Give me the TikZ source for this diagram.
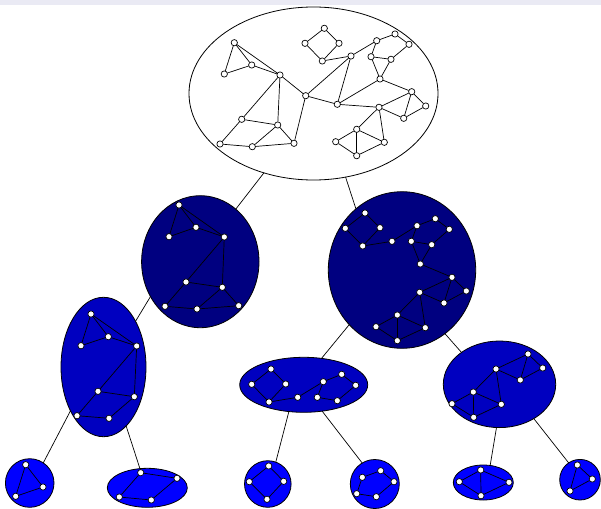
\documentclass[tikz,border=0pt]{standalone}
\usetikzlibrary{shapes.geometric}
\definecolor{band}{HTML}{EAEAF4}
\definecolor{lvlone}{HTML}{000080}
\definecolor{lvltwo}{HTML}{0000C0}
\definecolor{lvlthree}{HTML}{0000FF}

\begin{document}
\begin{tikzpicture}[x=1pt,y=-1pt,line cap=round,line join=round,
  cluster/.style={ellipse,draw=black,line width=0.8pt,inner sep=0pt,outer sep=0pt},
  leaf/.style={circle,draw=black,line width=0.8pt,inner sep=0pt,outer sep=0pt,fill=lvlthree},
  vtx/.style={circle,draw=black,fill=white,line width=0.7pt,inner sep=0pt,minimum size=6.3pt},
  gedge/.style={line width=0.7pt,black},
  tedge/.style={line width=0.7pt,black}]
  \useasboundingbox (0,0) rectangle (601,508);
  \fill[band] (0,0) rectangle (601,5);

  % ---- clusters of the decomposition tree ----
  \node[cluster,fill=white,minimum width=249pt,minimum height=173pt] (root) at (313.5,93.5) {};
  \node[cluster,fill=lvlone,minimum width=117.4pt,minimum height=132pt] (left) at (200.3,261.7) {};
  \node[cluster,fill=lvlone,minimum width=147.4pt,minimum height=156.6pt] (right) at (402,270) {};
  \node[cluster,fill=lvltwo,minimum width=85pt,minimum height=139.4pt] (leftleft) at (103.5,367) {};
  \node[cluster,fill=lvltwo,minimum width=128pt,minimum height=55pt] (mid) at (303.7,384.8) {};
  \node[cluster,fill=lvltwo,minimum width=112.4pt,minimum height=86.6pt] (rightright) at (499.5,384.3) {};
  \node[leaf,minimum size=48.6pt] (leafa) at (29.7,483) {};
  \node[cluster,fill=lvlthree,minimum width=80pt,minimum height=39pt] (leafb) at (147.3,487.8) {};
  \node[leaf,minimum size=46.6pt] (leafc) at (267.8,484) {};
  \node[leaf,minimum size=49pt] (leafd) at (374.8,484) {};
  \node[cluster,fill=lvlthree,minimum width=60pt,minimum height=35pt] (leafe) at (483.3,482.5) {};
  \node[leaf,minimum size=40.6pt] (leaff) at (580,479.7) {};

  % ---- tree connectors ----
  \draw[tedge] (root.-122) -- (left.56.5);
  \draw[tedge] (root.-69.6) -- (right.127.2);
  \draw[tedge] (left.215.8) -- (leftleft.55.3);
  \draw[tedge] (leftleft.233.7) -- (leafa.56.7);
  \draw[tedge] (leftleft.-69.6) -- (leafb.111.3);
  \draw[tedge] (right.226.6) -- (mid.56.9);
  \draw[tedge] (right.-56.5) -- (rightright.140);
  \draw[tedge] (mid.241.3) -- (leafc.70.5);
  \draw[tedge] (mid.-55.3) -- (leafd.121.6);
  \draw[tedge] (rightright.-94.6) -- (leafe.68.6);
  \draw[tedge] (rightright.-45.2) -- (leaff.124.5);

  % ---- whole graph (root) ----
  \foreach \n/\x/\y in {a1/234.3/42.7,a2/251.7/65,a3/224.3/74,a4/280/75,a5/305.7/95.7,
      a6/241.7/119.3,a7/277.7/125,a8/220/144,a9/252.3/146.7,a10/294/143.3,
      b1/324.3/28.3,b2/305/43.3,b3/339/43.3,b4/322.3/61,b5/351/56,
      c1/376.7/40.7,c2/395/34,c3/409/44.3,c4/371/56.7,c5/391/59.3,c6/380/79,
      d1/337.3/104.3,d2/411.7/91.7,d3/425.7/106,d4/403.7/118.3,d5/379/107.3,
      e1/356.7/129.3,e2/335.7/141.7,e3/384.3/142.3,e4/356.7/155.7}
    \node[vtx] (r\n) at (\x,\y) {};
  \foreach \a/\b in {a1/a2,a1/a3,a2/a3,a1/a4,a2/a4,a4/a5,a4/a6,a4/a7,a6/a7,a6/a8,a8/a9,
      a7/a9,a7/a10,a9/a10,a5/a10,a5/b5,a5/d1,b5/d1,b1/b2,b1/b3,b2/b4,b3/b4,b4/b5,b5/c1,
      c1/c2,c2/c3,c1/c4,c4/c5,c3/c5,c4/c6,c5/c6,c6/d1,c6/d2,d1/d5,d2/d5,d2/d3,d2/d4,
      d3/d4,d4/d5,d5/e1,d5/e3,e1/e2,e1/e3,e1/e4,e2/e4,e3/e4}
    \draw[gedge] (r\a) -- (r\b);

  % ---- left part ----
  \foreach \n/\x/\y in {a1/179/205,a2/196/227.3,a3/169/236.7,a4/224.3/237,a6/186/282,
      a7/222.3/287.3,a8/165/306.3,a9/197/309,a10/238.7/305.7}
    \node[vtx] (l\n) at (\x,\y) {};
  \foreach \a/\b in {a1/a2,a1/a3,a2/a3,a1/a4,a2/a4,a4/a6,a4/a7,a6/a7,a6/a8,a8/a9,a7/a9,
      a7/a10,a9/a10}
    \draw[gedge] (l\a) -- (l\b);

  % ---- right part ----
  \foreach \n/\x/\y in {b1/365/213,b2/345.3/228.3,b3/380/227.7,b4/362.7/246,b5/392/241.3,
      c1/417/225.7,c2/435.3/218.7,c3/449.3/229.3,c4/411.3/241.3,c5/431.7/244.7,c6/420.3/264,
      d2/452/277.3,d3/466.3/291,d4/444/303,d5/419.7/292.3,
      e1/397.3/315,e2/376/326.7,e3/425.3/327.7,e4/397.3/340.7}
    \node[vtx] (g\n) at (\x,\y) {};
  \foreach \a/\b in {b1/b2,b1/b3,b2/b4,b3/b4,b4/b5,b5/c1,c1/c2,c2/c3,c1/c4,c4/c5,c3/c5,
      c4/c6,c5/c6,c6/d2,d2/d3,d2/d4,d3/d4,d2/d5,d4/d5,d5/e1,d5/e3,e1/e2,e1/e3,e1/e4,
      e2/e4,e3/e4}
    \draw[gedge] (g\a) -- (g\b);

  % ---- second level ----
  \foreach \n/\x/\y in {a1/91/314,a2/108.3/336.7,a3/81/345.7,a4/136.7/346,a6/98/391.3,
      a7/134.3/396.7,a8/77/415.7,a9/109/418.3}
    \node[vtx] (ll\n) at (\x,\y) {};
  \foreach \a/\b in {a1/a2,a1/a3,a2/a3,a1/a4,a2/a4,a4/a6,a4/a7,a6/a7,a6/a8,a8/a9,a7/a9}
    \draw[gedge] (ll\a) -- (ll\b);

  \foreach \n/\x/\y in {b1/271/369,b2/251.7/384.3,b3/285.7/384,b4/269/402,b5/297.7/397.3,
      c1/323.3/381.7,c2/341.7/374.3,c3/355.7/385.3,c4/317.3/397.3,c5/337.3/400.7}
    \node[vtx] (m\n) at (\x,\y) {};
  \foreach \a/\b in {b1/b2,b1/b3,b2/b4,b3/b4,b4/b5,b5/c1,c1/c2,c2/c3,c1/c4,c4/c5,c3/c5}
    \draw[gedge] (m\a) -- (m\b);

  \foreach \n/\x/\y in {d2/528/354,d3/542.7/368,d4/520.3/380,d5/496/369,
      e1/473.3/392,e2/452/403.7,e3/501.3/404.3,e4/473.7/417.3}
    \node[vtx] (rr\n) at (\x,\y) {};
  \foreach \a/\b in {d2/d3,d2/d4,d3/d4,d2/d5,d4/d5,d5/e1,d5/e3,e1/e2,e1/e3,e1/e4,e2/e4,e3/e4}
    \draw[gedge] (rr\a) -- (rr\b);

  % ---- leaves ----
  \foreach \n/\x/\y in {a1/25.7/464.7,a2/43/487,a3/15.7/496.3}
    \node[vtx] (ka\n) at (\x,\y) {};
  \foreach \a/\b in {a1/a2,a2/a3,a3/a1}
    \draw[gedge] (ka\a) -- (ka\b);

  \foreach \n/\x/\y in {a6/140.7/472.7,a7/177/478.3,a8/119.3/497,a9/151.3/500}
    \node[vtx] (kb\n) at (\x,\y) {};
  \foreach \a/\b in {a6/a7,a6/a8,a8/a9,a9/a7}
    \draw[gedge] (kb\a) -- (kb\b);

  \foreach \n/\x/\y in {b1/268.7/466,b2/249.3/481.7,b3/283.7/481.3,b4/267/499.3}
    \node[vtx] (kc\n) at (\x,\y) {};
  \foreach \a/\b in {b1/b2,b1/b3,b2/b4,b3/b4}
    \draw[gedge] (kc\a) -- (kc\b);

  \foreach \n/\x/\y in {c1/362.3/477.3,c2/380.7/470.7,c3/394/481.7,c5/376.3/496.7,c4/356.7/493.7}
    \node[vtx] (kd\n) at (\x,\y) {};
  \foreach \a/\b in {c1/c2,c2/c3,c3/c5,c5/c4,c4/c1}
    \draw[gedge] (kd\a) -- (kd\b);

  \foreach \n/\x/\y in {e1/480.7/470,e2/459.3/481.7,e3/509/482.3,e4/481/495.7}
    \node[vtx] (ke\n) at (\x,\y) {};
  \foreach \a/\b in {e1/e2,e1/e3,e1/e4,e2/e4,e3/e4}
    \draw[gedge] (ke\a) -- (ke\b);

  \foreach \n/\x/\y in {d2/577.3/465,d3/592.3/479,d4/570/491}
    \node[vtx] (kf\n) at (\x,\y) {};
  \foreach \a/\b in {d2/d3,d3/d4,d4/d2}
    \draw[gedge] (kf\a) -- (kf\b);
\end{tikzpicture}
\end{document}
